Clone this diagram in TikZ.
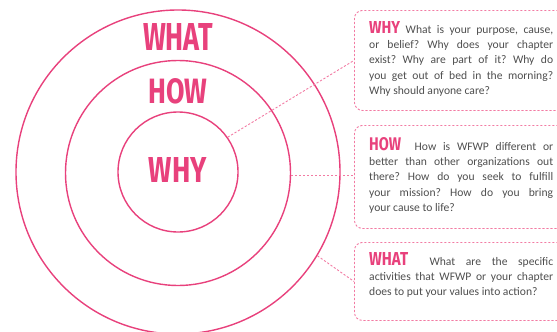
\documentclass[tikz,border=0pt]{standalone}
\usepackage{fontspec}
\usepackage{graphicx}
\setmainfont{Carlito}
\newfontfamily\headfont{Fira Sans}
\definecolor{rose}{HTML}{E8417C}
\definecolor{roselight}{HTML}{F27BA3}
\definecolor{bodygray}{HTML}{4E4E4E}
\newcommand{\ttl}[3]{{\color{rose}\resizebox{#1}{#2}{\headfont\bfseries #3}}}
\hyphenpenalty=10000
\frenchspacing
\begin{document}
\begin{tikzpicture}[x=1pt,y=-1pt,
  ring/.style={circle,draw=rose,line width=1.4pt,inner sep=0pt},
  bubble/.style={draw=roselight,line width=0.9pt,dash pattern=on 2.2pt off 1.8pt,rounded corners=8pt,anchor=north west,inner sep=0pt},
  link/.style={draw=roselight,line width=0.9pt,dash pattern=on 2.2pt off 1.8pt},
  body/.style={anchor=north west,inner sep=0pt,text width=184pt,align=justify,text=bodygray,font=\fontsize{11.6}{15.3}\selectfont}]
\useasboundingbox (0,0) rectangle (557,332);
\clip (0,0) rectangle (557,332);
% circles
\node[ring,minimum size=324pt] (outer) at (178,172) {};
\node[ring,minimum size=225pt] (mid) at (178,173) {};
\node[ring,minimum size=120pt] (inner) at (178,172) {};
% big labels
\node[anchor=base,inner sep=0pt] (lwhat) at (178,50) {\ttl{70pt}{27pt}{WHAT}};
\node[anchor=base,inner sep=0pt] (lhow) at (178,103) {\ttl{59pt}{25pt}{HOW}};
\node[anchor=base,inner sep=0pt] (lwhy) at (178,182) {\ttl{58pt}{25pt}{WHY}};
% boxes
\node[bubble,minimum width=212pt,minimum height=100pt] (box1) at (354,10) {};
\node[bubble,minimum width=212pt,minimum height=103pt] (box2) at (354,125) {};
\node[bubble,minimum width=212pt,minimum height=78pt] (box3) at (354,242) {};
% texts
\node[body] (t1) at (369,21) {\ttl{31pt}{12pt}{WHY} What is your purpose, cause,\linebreak or belief? Why does your chapter\linebreak exist? Why are part of it? Why do\linebreak you get out of bed in the morning?\linebreak Why should anyone care?};
\node[body] (t2) at (369,137) {\ttl{32pt}{13pt}{HOW} \ How is WFWP different or\linebreak better than other organizations out\linebreak there? How do you seek to fulfill\linebreak your mission? How do you bring\linebreak your cause to life?};
\node[body] (t3) at (369,252) {\ttl{39pt}{13pt}{WHAT} \ What are the specific\linebreak activities that WFWP or your chapter\linebreak does to put your values into action?};
% connectors
\draw[link] (inner.35.8) -- (box1.west);
\draw[link] (mid.-1.5) -- (mid.-1.5 -| box2.west);
\draw[link] (outer.-31.3) -- (box3.west);
\end{tikzpicture}
\end{document}
